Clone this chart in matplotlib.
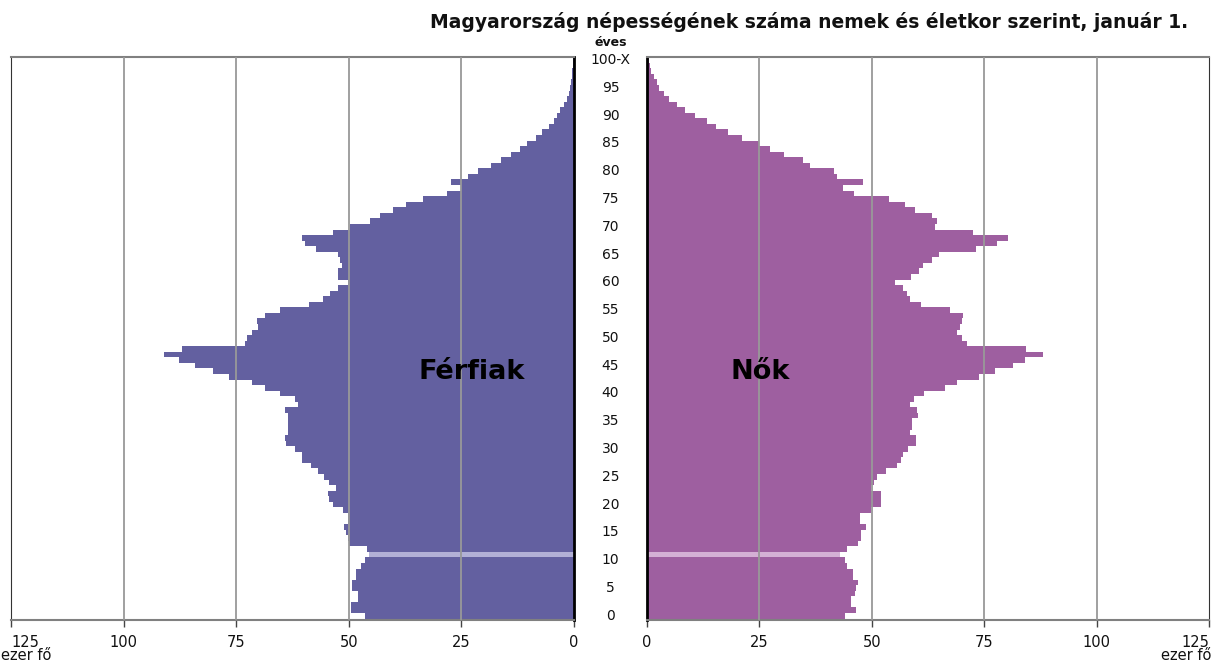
import matplotlib
matplotlib.use("Agg")
import matplotlib.pyplot as plt
from matplotlib.transforms import blended_transform_factory

plt.rcParams["font.family"] = ["DejaVu Sans"]

# életkor (100 = 100-X)
ages = list(range(101))
age_ticks = list(range(0, 101, 5))
age_tick_labels = [str(a) for a in age_ticks[:-1]] + ["100-X"]

# ezer fő
male = [
    46.5, 49.5, 49.5, 48.0, 48.0, 49.3, 49.3, 48.5, 48.5, 47.3,
    46.5, 45.6, 46.0, 49.9, 50.2, 50.6, 51.0, 50.2, 50.2, 51.3,
    53.6, 54.3, 54.7, 52.8, 54.3, 55.4, 56.9, 58.5, 60.3, 60.5,
    62.0, 64.0, 64.2, 63.5, 63.5, 63.5, 63.5, 64.2, 61.3, 62.0,
    65.3, 68.7, 71.6, 76.6, 80.1, 84.2, 87.7, 91.0, 87.0, 73.1,
    72.5, 71.6, 70.2, 70.3, 68.7, 65.3, 58.9, 55.7, 54.2, 52.4,
    50.1, 52.4, 52.4, 51.6, 52.0, 52.4, 57.2, 59.8, 60.5, 53.5,
    49.8, 45.3, 43.1, 40.1, 37.2, 33.5, 28.3, 25.0, 27.2, 23.5,
    21.3, 18.5, 16.3, 14.0, 12.0, 10.4, 8.5, 7.0, 5.6, 4.5,
    3.7, 3.0, 2.3, 1.6, 1.2, 0.9, 0.7, 0.5, 0.35, 0.25,
    0.2,
]
female = [
    44.0, 46.4, 45.3, 45.3, 46.2, 46.5, 46.9, 45.8, 45.8, 44.5,
    44.0, 42.9, 44.4, 47.0, 47.7, 47.7, 48.7, 47.3, 47.3, 49.9,
    52.1, 52.1, 52.1, 49.9, 50.6, 51.1, 53.1, 55.7, 56.5, 56.9,
    58.0, 59.9, 59.9, 58.4, 58.9, 58.9, 60.2, 60.0, 58.4, 59.3,
    61.5, 66.3, 68.9, 73.9, 77.4, 81.5, 84.0, 88.0, 84.4, 71.1,
    70.0, 68.9, 69.6, 70.0, 70.2, 67.3, 60.9, 58.5, 57.8, 57.0,
    55.2, 58.7, 60.6, 61.3, 63.3, 65.0, 73.2, 77.8, 80.4, 72.4,
    64.0, 64.4, 63.3, 59.6, 57.4, 53.9, 46.0, 43.7, 48.0, 42.2,
    41.5, 36.3, 34.8, 30.4, 27.4, 24.8, 21.1, 18.1, 15.4, 13.3,
    10.7, 8.5, 6.7, 4.8, 3.7, 2.6, 2.2, 1.5, 1.0, 0.6,
    0.4,
]
highlight_age = 11
x_ticks = [0, 25, 50, 75, 100, 125]

MALE_C, MALE_HL = "#6360a0", "#b2b0d6"
FEMALE_C, FEMALE_HL = "#9e5fa0", "#d4b0d5"
W, H = 1214, 664

fig = plt.figure(figsize=(W / 100, H / 100), dpi=100)
axL = fig.add_axes([11 / W, 44 / H, 563 / W, 563 / H])
axR = fig.add_axes([647 / W, 44 / H, 562 / W, 563 / H])

for ax, vals, c, hl in [(axL, male, MALE_C, MALE_HL), (axR, female, FEMALE_C, FEMALE_HL)]:
    colors = [hl if a == highlight_age else c for a in ages]
    ax.barh(ages, vals, height=1.0, color=colors, linewidth=0, zorder=2)
    for v in x_ticks[1:-1]:
        ax.axvline(v, color="#999999", lw=1.3, zorder=3)
    ax.set_ylim(-0.76, 100.54)
    ax.set_yticks([])
    ax.set_xticks(x_ticks)
    ax.tick_params(axis="x", direction="out", length=5, width=1, color="#444444",
                   labelsize=10.5, pad=6, labelcolor="#111111")
    ax.spines["top"].set_color("#808080")
    ax.spines["top"].set_linewidth(1.5)
    ax.spines["bottom"].set_color("#808080")
    ax.spines["bottom"].set_linewidth(1.5)

axL.set_xlim(125, 0)
axR.set_xlim(0, 125)
axL.spines["right"].set_color("black")
axL.spines["right"].set_linewidth(2)
axL.spines["left"].set_color("#333333")
axR.spines["left"].set_color("black")
axR.spines["left"].set_linewidth(2)
axR.spines["right"].set_color("#333333")

# a szélső 125-ös feliratok ne lógjanak ki
axL.get_xticklabels()[-1].set_ha("left")
axL.get_xticklabels()[-1].set_x(125)
axR.get_xticklabels()[-1].set_ha("right")

# életkor feliratok a két panel között
tr = blended_transform_factory(fig.transFigure, axL.transData)
for a, lab in zip(age_ticks, age_tick_labels):
    axL.text(610.5 / W, a, lab, transform=tr, ha="center", va="center",
             fontsize=10, color="#111111", clip_on=False)

fig.text(610.5 / W, 1 - 42 / H, "éves", ha="center", va="center",
         fontsize=9, fontweight="bold", color="#111111")
fig.text(1188 / W, 1 - 22 / H,
         "Magyarország népességének száma nemek és életkor szerint, január 1.",
         ha="right", va="center", fontsize=13.5, fontweight="bold", color="#111111")
fig.text(1 / W, 1 - 656 / H, "ezer fő", ha="left", va="center", fontsize=10.5, color="#111111")
fig.text(1211 / W, 1 - 656 / H, "ezer fő", ha="right", va="center", fontsize=10.5, color="#111111")

axL.text(22.7, 43.9, "Férfiak", ha="center", va="center", fontsize=19.5,
         fontweight="bold", color="black", zorder=5)
axR.text(25.1, 43.9, "Nők", ha="center", va="center", fontsize=19.5,
         fontweight="bold", color="black", zorder=5)

fig.savefig("out.png", dpi=100)
